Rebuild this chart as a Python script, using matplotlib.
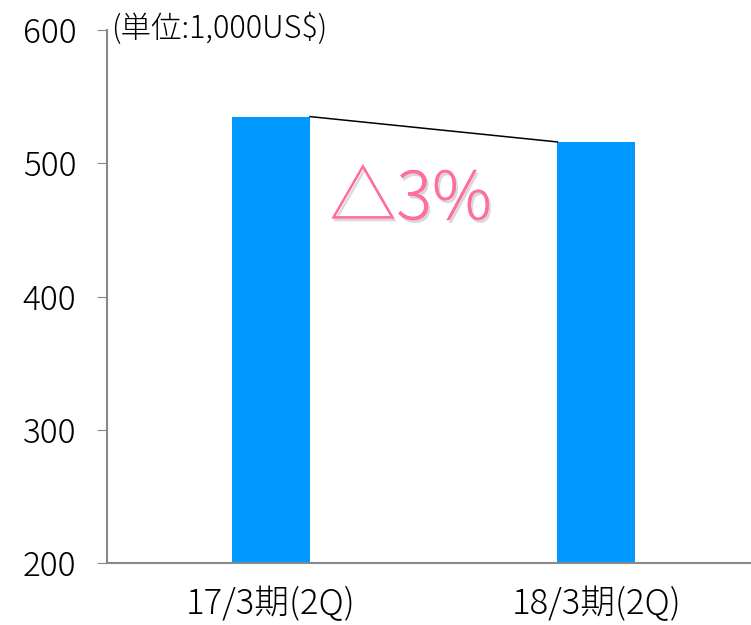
import matplotlib
matplotlib.use("Agg")
import matplotlib.pyplot as plt
import matplotlib.patheffects as pe

plt.rcParams['font.family'] = ['Noto Sans CJK JP', 'DejaVu Sans']
plt.rcParams['font.weight'] = 'light'

# data
categories = ["17/3期(2Q)", "18/3期(2Q)"]
values = [535, 516]
yticks = [200, 300, 400, 500, 600]
unit_label = "(単位:1,000US$)"
change_label = "△3%"

fig = plt.figure(figsize=(7.51, 6.25), dpi=100)
ax = fig.add_axes([107 / 751, 62 / 625, (751 - 107) / 751, (563 - 30) / 625])

x = list(range(len(categories)))
bw = 0.24
ax.bar(x, values, width=bw, color="#0099FF", zorder=2)

# connector between bar tops
ax.plot([x[0] + bw / 2, x[1] - bw / 2], values, color="black", lw=1.1, zorder=3)

ax.text(0.18, 472, change_label, fontsize=48, color="#FF6E9E", va="center", ha="left",
        path_effects=[pe.withSimplePatchShadow(offset=(1.5, -2), shadow_rgbFace="gray", alpha=0.3),
                      pe.Normal()])

ax.text(-0.49, 601, unit_label, fontsize=22, va="center", ha="left")

ax.set_xlim(-0.504, 1.475)
ax.set_ylim(200, 600)
ax.set_yticks(yticks)
ax.set_xticks(x)
ax.set_xticklabels(categories, fontsize=25)
ax.tick_params(axis="y", labelsize=24, length=7, color="#888888", pad=15)
ax.tick_params(axis="x", length=0, pad=17)
for s in ["top", "right"]:
    ax.spines[s].set_visible(False)
for s in ["left", "bottom"]:
    ax.spines[s].set_color("#888888")
    ax.spines[s].set_linewidth(1.5)

fig.savefig("out.png", dpi=100)
